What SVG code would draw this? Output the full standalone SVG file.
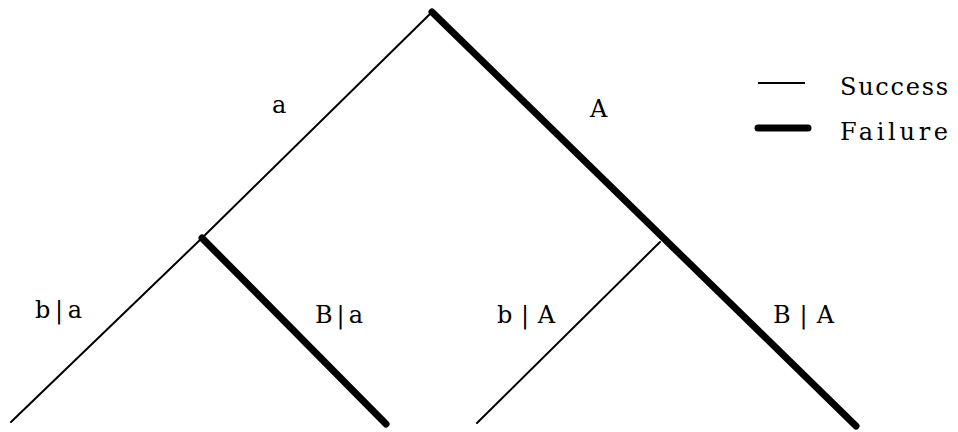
<svg xmlns="http://www.w3.org/2000/svg" width="958" height="432" viewBox="0 0 958 432">
<style>
.thin{stroke:#000;stroke-width:2;fill:none;stroke-linecap:round}
.thick{stroke:#000;stroke-width:7;fill:none;stroke-linecap:round}
text{font-family:"DejaVu Serif","Liberation Serif",serif;font-size:24px;fill:#000}
</style>
<rect width="958" height="432" fill="#fff"/>
<g id="connectors">
<line class="thin" x1="432" y1="12" x2="202" y2="238"/>
<line class="thick" x1="432" y1="12" x2="856" y2="426"/>
<line class="thin" x1="202" y1="238" x2="11" y2="422"/>
<line class="thick" x1="202" y1="238" x2="386" y2="424"/>
<line class="thin" x1="660" y1="242" x2="477" y2="423"/>
</g>
<g id="labels">
<text x="272" y="113">a</text>
<text x="590" y="117">A</text>
<text x="35" y="318" textLength="47">b|a</text>
<text x="315" y="323" textLength="48">B|a</text>
<text x="497" y="323" textLength="58">b|A</text>
<text x="773" y="323" textLength="61">B|A</text>
</g>
<g id="legend">
<line class="thin" x1="758" y1="83" x2="805" y2="83" style="stroke-linecap:butt"/>
<text x="840" y="95" textLength="108">Success</text>
<line class="thick" x1="758" y1="128" x2="808" y2="128"/>
<text x="840" y="140" textLength="108">Failure</text>
</g>
</svg>
